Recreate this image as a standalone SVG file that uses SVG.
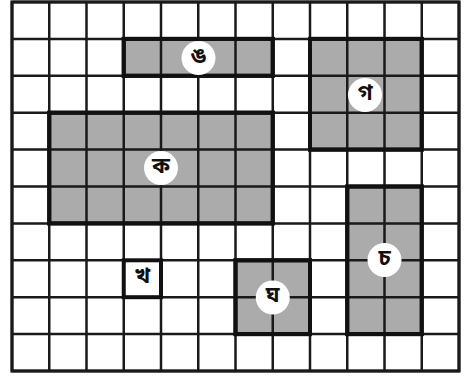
<svg xmlns="http://www.w3.org/2000/svg" width="467" height="378" viewBox="0 0 467 378">
<style>
.grid{stroke:#1a1a1a;stroke-width:2.5;fill:none}
.reg{fill:#ababab;stroke:#111;stroke-width:4}
.box{fill:#fff;stroke:#111;stroke-width:4}
.lab{fill:#fff;stroke:none}
.t{font-family:"Noto Sans Bengali","Noto Sans","DejaVu Sans",sans-serif;font-size:22px;font-weight:bold;fill:#111;text-anchor:middle;dominant-baseline:central}
</style>
<rect width="467" height="378" fill="#fff"/>
<g id="regions-fill">
<rect class="reg" x="123.75" y="38.9" width="149" height="36.9" stroke="none"/>
<rect class="reg" x="49.25" y="112.7" width="223.5" height="110.7" stroke="none"/>
<rect class="reg" x="310" y="38.9" width="111.75" height="110.7" stroke="none"/>
<rect class="reg" x="347.25" y="186.5" width="74.5" height="147.6" stroke="none"/>
<rect class="reg" x="235.5" y="260.3" width="74.5" height="73.8" stroke="none"/>
</g>
<g id="grid" class="grid">
<path d="M12 2V371M49.25 2V371M86.5 2V371M123.75 2V371M161 2V371M198.25 2V371M235.5 2V371M272.75 2V371M310 2V371M347.25 2V371M384.5 2V371M421.75 2V371M459 2V371"/>
<path d="M12 2H459M12 38.9H459M12 75.8H459M12 112.7H459M12 149.6H459M12 186.5H459M12 223.4H459M12 260.3H459M12 297.2H459M12 334.1H459M12 371H459"/>
<rect x="12" y="2" width="447" height="369" stroke-width="3.2"/>
</g>
<g id="nga">
<rect class="reg" x="123.75" y="38.9" width="149" height="36.9" style="fill:none"/>
<circle class="lab" cx="198.5" cy="58" r="17"/>
<text class="t" x="198.5" y="57">ঙ</text>
</g>
<g id="ka">
<rect class="reg" x="49.25" y="112.7" width="223.5" height="110.7" style="fill:none"/>
<circle class="lab" cx="161" cy="168" r="17"/>
<text class="t" x="161" y="167">ক</text>
</g>
<g id="ga">
<rect class="reg" x="310" y="38.9" width="111.75" height="110.7" style="fill:none"/>
<circle class="lab" cx="365" cy="95" r="17"/>
<text class="t" x="365" y="94">গ</text>
</g>
<g id="ca">
<rect class="reg" x="347.25" y="186.5" width="74.5" height="147.6" style="fill:none"/>
<circle class="lab" cx="384.5" cy="260" r="17"/>
<text class="t" x="384.5" y="259">চ</text>
</g>
<g id="gha">
<rect class="reg" x="235.5" y="260.3" width="74.5" height="73.8" style="fill:none"/>
<circle class="lab" cx="272.75" cy="297.5" r="17"/>
<text class="t" x="272.75" y="296.5">ঘ</text>
</g>
<g id="kha">
<rect class="box" x="123.75" y="260.3" width="37.25" height="36.9"/>
<circle class="lab" cx="142.4" cy="278.75" r="16"/>
<text class="t" x="142.4" y="277.75">খ</text>
</g>
</svg>
